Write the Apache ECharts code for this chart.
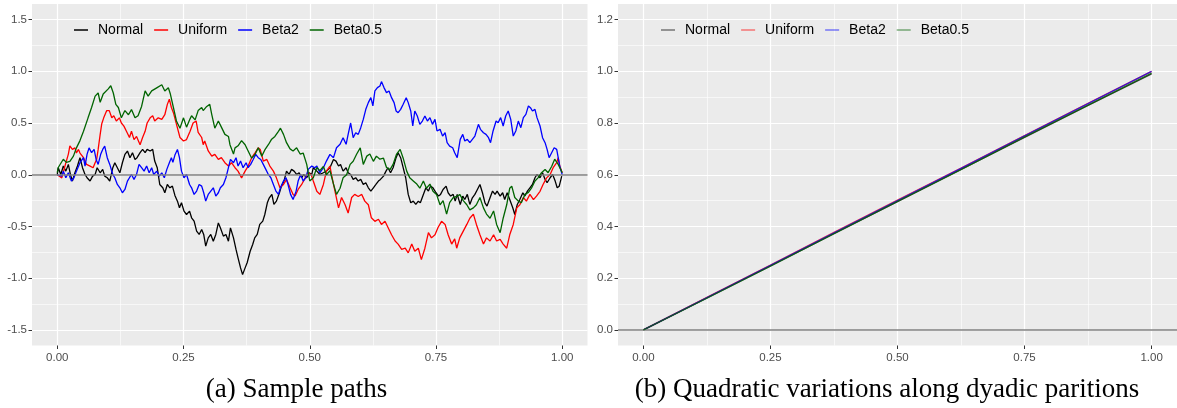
<!DOCTYPE html>
<html><head><meta charset="utf-8">
<script src="https://cdn.jsdelivr.net/npm/echarts@6/dist/echarts.min.js"></script>
<style>html,body{margin:0;padding:0;background:#fff;}#c{width:1177px;height:408px;}</style>
</head><body><div id="c"></div>
<script>
const seriesNames = ['Normal', 'Uniform', 'Beta2', 'Beta0.5'];
const seriesColors = ['#000000', '#FF0000', '#0000FF', '#006400'];
const legendColorsB = ['rgba(0,0,0,0.5)', 'rgba(255,0,0,0.5)', 'rgba(0,0,255,0.5)', 'rgba(0,100,0,0.5)'];

const pathNormal = [[0,0],[0.002,0.068],[0.007,0.003],[0.012,0.084],[0.017,0.035],[0.022,0.10],[0.026,0.003],[0.030,-0.061],[0.035,0.019],[0.040,0.084],[0.045,0.165],[0.050,0.068],[0.055,0.003],[0.059,-0.029],[0.065,-0.061],[0.070,-0.013],[0.075,0.003],[0.079,0.068],[0.085,0.019],[0.090,0.052],[0.094,-0.013],[0.099,-0.029],[0.104,-0.061],[0.110,0.068],[0.114,0.116],[0.119,0.068],[0.124,0.019],[0.129,0.116],[0.134,0.197],[0.139,0.229],[0.144,0.165],[0.149,0.213],[0.154,0.148],[0.158,0.165],[0.164,0.213],[0.169,0.245],[0.174,0.213],[0.178,0.245],[0.184,0.229],[0.189,0.245],[0.193,0.132],[0.198,0.068],[0.203,-0.094],[0.209,-0.126],[0.213,-0.174],[0.218,-0.094],[0.223,-0.126],[0.228,-0.11],[0.233,-0.2],[0.238,-0.255],[0.242,-0.319],[0.246,-0.271],[0.251,-0.352],[0.256,-0.384],[0.262,-0.352],[0.266,-0.416],[0.271,-0.448],[0.276,-0.545],[0.281,-0.577],[0.286,-0.529],[0.290,-0.577],[0.294,-0.69],[0.299,-0.61],[0.304,-0.577],[0.309,-0.642],[0.314,-0.577],[0.319,-0.465],[0.323,-0.513],[0.329,-0.593],[0.334,-0.577],[0.339,-0.642],[0.343,-0.513],[0.349,-0.61],[0.354,-0.722],[0.358,-0.803],[0.363,-0.9],[0.367,-0.965],[0.372,-0.9],[0.376,-0.85],[0.382,-0.739],[0.387,-0.674],[0.391,-0.61],[0.396,-0.577],[0.401,-0.48],[0.407,-0.448],[0.411,-0.384],[0.416,-0.271],[0.420,-0.223],[0.425,-0.19],[0.429,-0.287],[0.434,-0.255],[0.440,-0.174],[0.444,-0.11],[0.449,-0.061],[0.454,0.035],[0.459,0.003],[0.464,0.052],[0.469,0.035],[0.474,0.003],[0.479,0.019],[0.484,-0.029],[0.488,0.003],[0.494,-0.029],[0.499,0.019],[0.504,0.003],[0.507,0.068],[0.514,0.035],[0.520,0.003],[0.527,0.019],[0.533,0.035],[0.540,0.068],[0.547,0.148],[0.552,0.132],[0.557,0.084],[0.561,0.10],[0.566,0.035],[0.572,0.068],[0.576,0.019],[0.581,0.003],[0.586,-0.045],[0.591,-0.029],[0.596,-0.061],[0.601,-0.045],[0.606,-0.094],[0.611,-0.077],[0.616,-0.126],[0.621,-0.158],[0.626,-0.126],[0.631,-0.094],[0.636,-0.061],[0.640,-0.045],[0.646,-0.013],[0.651,0.035],[0.655,0.068],[0.660,0.019],[0.665,0.068],[0.671,0.165],[0.675,0.213],[0.680,0.165],[0.685,0.068],[0.690,-0.029],[0.695,-0.19],[0.700,-0.271],[0.705,-0.255],[0.710,-0.287],[0.715,-0.255],[0.719,-0.271],[0.725,-0.19],[0.730,-0.126],[0.735,-0.158],[0.739,-0.11],[0.744,-0.126],[0.750,-0.174],[0.755,-0.206],[0.759,-0.19],[0.764,-0.142],[0.770,-0.11],[0.774,-0.174],[0.779,-0.206],[0.784,-0.19],[0.788,-0.255],[0.792,-0.19],[0.798,-0.287],[0.803,-0.206],[0.807,-0.239],[0.812,-0.19],[0.817,-0.287],[0.822,-0.223],[0.827,-0.19],[0.832,-0.142],[0.837,-0.094],[0.842,-0.174],[0.847,-0.271],[0.851,-0.303],[0.857,-0.223],[0.862,-0.158],[0.867,-0.19],[0.871,-0.158],[0.877,-0.206],[0.882,-0.174],[0.886,-0.239],[0.891,-0.174],[0.896,-0.239],[0.902,-0.319],[0.906,-0.384],[0.911,-0.287],[0.916,-0.239],[0.922,-0.174],[0.926,-0.206],[0.931,-0.158],[0.936,-0.126],[0.941,-0.094],[0.946,-0.029],[0.950,0.003],[0.956,-0.029],[0.961,0.019],[0.966,-0.045],[0.970,-0.077],[0.976,-0.029],[0.981,0.003],[0.986,-0.061],[0.990,-0.126],[0.994,-0.11],[0.999,-0.013]];

const pathUniform = [[0,0],[0.002,-0.01],[0.009,-0.03],[0.015,0.08],[0.022,0.20],[0.025,0.28],[0.030,0.245],[0.035,0.26],[0.038,0.21],[0.042,0.245],[0.045,0.21],[0.052,0.165],[0.058,0.10],[0.065,0.084],[0.071,0.068],[0.075,0.116],[0.078,0.148],[0.081,0.245],[0.085,0.39],[0.088,0.49],[0.092,0.55],[0.098,0.62],[0.103,0.62],[0.108,0.55],[0.112,0.57],[0.117,0.52],[0.123,0.55],[0.127,0.50],[0.132,0.47],[0.137,0.42],[0.143,0.36],[0.147,0.42],[0.152,0.34],[0.157,0.37],[0.164,0.29],[0.169,0.36],[0.174,0.42],[0.178,0.50],[0.184,0.55],[0.189,0.57],[0.193,0.52],[0.200,0.55],[0.207,0.535],[0.213,0.58],[0.218,0.68],[0.222,0.73],[0.226,0.65],[0.230,0.60],[0.236,0.49],[0.243,0.36],[0.250,0.326],[0.256,0.34],[0.263,0.42],[0.269,0.50],[0.275,0.52],[0.279,0.41],[0.286,0.36],[0.289,0.29],[0.292,0.326],[0.299,0.23],[0.306,0.18],[0.312,0.197],[0.319,0.148],[0.325,0.165],[0.332,0.116],[0.339,0.084],[0.345,0.116],[0.352,0.068],[0.358,0.035],[0.365,-0.03],[0.372,0.035],[0.378,0.084],[0.385,0.165],[0.392,0.213],[0.398,0.26],[0.402,0.245],[0.408,0.132],[0.415,0.148],[0.421,0.084],[0.428,0.035],[0.434,-0.03],[0.441,-0.126],[0.448,-0.094],[0.454,-0.045],[0.461,-0.126],[0.467,-0.19],[0.471,-0.206],[0.477,-0.142],[0.484,-0.094],[0.491,-0.03],[0.497,0.02],[0.503,0.0],[0.507,-0.06],[0.514,-0.16],[0.520,-0.19],[0.527,-0.094],[0.533,0.035],[0.540,0.084],[0.543,0.003],[0.550,-0.16],[0.557,-0.32],[0.563,-0.22],[0.570,-0.29],[0.576,-0.37],[0.583,-0.22],[0.589,-0.19],[0.596,-0.21],[0.603,-0.19],[0.609,-0.255],[0.616,-0.29],[0.622,-0.416],[0.629,-0.45],[0.636,-0.43],[0.642,-0.48],[0.649,-0.45],[0.655,-0.51],[0.662,-0.58],[0.669,-0.64],[0.675,-0.67],[0.682,-0.72],[0.689,-0.71],[0.695,-0.755],[0.702,-0.67],[0.708,-0.74],[0.715,-0.71],[0.721,-0.82],[0.728,-0.71],[0.735,-0.56],[0.741,-0.61],[0.748,-0.58],[0.754,-0.51],[0.761,-0.45],[0.768,-0.48],[0.774,-0.58],[0.781,-0.67],[0.787,-0.62],[0.791,-0.71],[0.797,-0.61],[0.804,-0.545],[0.811,-0.48],[0.817,-0.42],[0.824,-0.38],[0.830,-0.48],[0.837,-0.58],[0.844,-0.67],[0.850,-0.61],[0.857,-0.64],[0.864,-0.58],[0.870,-0.64],[0.877,-0.625],[0.883,-0.67],[0.890,-0.71],[0.896,-0.58],[0.903,-0.48],[0.910,-0.32],[0.916,-0.29],[0.923,-0.22],[0.929,-0.255],[0.936,-0.19],[0.943,-0.24],[0.949,-0.206],[0.956,-0.16],[0.962,-0.094],[0.969,-0.03],[0.976,0.003],[0.982,0.068],[0.989,0.116],[0.992,0.165],[0.995,0.084],[1.0,0.02]];

const pathBeta2 = [[0,0],[0.002,0.003],[0.009,-0.013],[0.012,0.035],[0.017,-0.029],[0.022,0.019],[0.028,-0.061],[0.033,-0.029],[0.038,0.035],[0.045,0.116],[0.052,0.165],[0.055,0.084],[0.059,0.197],[0.063,0.26],[0.068,0.213],[0.073,0.245],[0.077,0.148],[0.081,0.10],[0.086,0.197],[0.090,0.245],[0.094,0.277],[0.099,0.165],[0.104,0.10],[0.110,0.003],[0.114,-0.029],[0.119,-0.094],[0.124,-0.126],[0.129,-0.174],[0.134,-0.142],[0.139,-0.061],[0.143,-0.029],[0.147,0.003],[0.152,-0.045],[0.157,0.003],[0.162,0.10],[0.167,0.068],[0.172,0.035],[0.177,0.084],[0.182,0.019],[0.187,0.068],[0.191,0.003],[0.197,0.035],[0.202,-0.013],[0.207,0.019],[0.212,-0.029],[0.217,0.052],[0.222,0.116],[0.226,0.165],[0.229,0.12],[0.233,0.19],[0.238,0.245],[0.242,0.165],[0.246,0.035],[0.251,-0.029],[0.256,0.003],[0.262,-0.094],[0.266,-0.126],[0.271,-0.19],[0.276,-0.158],[0.281,-0.094],[0.286,-0.11],[0.290,-0.174],[0.294,-0.255],[0.299,-0.19],[0.304,-0.158],[0.309,-0.126],[0.314,-0.206],[0.319,-0.174],[0.323,-0.126],[0.329,-0.094],[0.334,-0.029],[0.339,0.068],[0.343,0.148],[0.349,0.116],[0.354,0.165],[0.358,0.084],[0.363,0.132],[0.368,0.068],[0.374,0.116],[0.378,0.068],[0.383,0.10],[0.388,0.148],[0.393,0.197],[0.398,0.165],[0.403,0.148],[0.408,0.10],[0.413,0.052],[0.418,0.003],[0.423,-0.029],[0.428,-0.094],[0.433,-0.158],[0.438,-0.19],[0.442,-0.126],[0.448,-0.061],[0.453,-0.029],[0.457,-0.094],[0.462,-0.19],[0.467,-0.239],[0.473,-0.158],[0.477,-0.061],[0.482,0.003],[0.487,-0.061],[0.492,-0.029],[0.497,0.052],[0.504,0.084],[0.510,0.068],[0.514,0.084],[0.520,0.019],[0.527,0.068],[0.533,0.132],[0.540,0.197],[0.547,0.165],[0.553,0.261],[0.560,0.294],[0.566,0.358],[0.572,0.294],[0.576,0.39],[0.581,0.50],[0.586,0.358],[0.591,0.406],[0.596,0.39],[0.601,0.455],[0.606,0.535],[0.611,0.632],[0.616,0.697],[0.621,0.745],[0.625,0.665],[0.629,0.81],[0.634,0.842],[0.639,0.858],[0.642,0.90],[0.647,0.842],[0.652,0.794],[0.657,0.81],[0.662,0.745],[0.667,0.697],[0.671,0.616],[0.675,0.60],[0.680,0.632],[0.685,0.681],[0.691,0.745],[0.695,0.697],[0.700,0.616],[0.704,0.471],[0.708,0.616],[0.713,0.568],[0.718,0.487],[0.723,0.519],[0.728,0.568],[0.733,0.519],[0.738,0.552],[0.743,0.487],[0.748,0.535],[0.752,0.423],[0.758,0.439],[0.763,0.374],[0.768,0.406],[0.772,0.31],[0.777,0.277],[0.783,0.261],[0.787,0.213],[0.792,0.165],[0.798,0.342],[0.803,0.39],[0.807,0.326],[0.812,0.342],[0.817,0.31],[0.822,0.342],[0.827,0.374],[0.834,0.487],[0.838,0.439],[0.844,0.406],[0.849,0.39],[0.854,0.358],[0.858,0.31],[0.863,0.423],[0.869,0.519],[0.873,0.503],[0.878,0.552],[0.883,0.471],[0.888,0.568],[0.893,0.616],[0.898,0.535],[0.903,0.374],[0.908,0.423],[0.913,0.519],[0.918,0.455],[0.923,0.552],[0.928,0.584],[0.933,0.665],[0.937,0.648],[0.941,0.616],[0.946,0.632],[0.950,0.552],[0.956,0.471],[0.961,0.358],[0.966,0.31],[0.970,0.245],[0.974,0.165],[0.979,0.213],[0.984,0.261],[0.989,0.245],[0.992,0.165],[0.995,0.084],[1.0,0.0]];

const pathBeta05 = [[0,0.02],[0.002,0.07],[0.012,0.15],[0.018,0.12],[0.025,0.13],[0.032,0.18],[0.038,0.26],[0.045,0.33],[0.052,0.42],[0.061,0.55],[0.068,0.65],[0.075,0.76],[0.081,0.79],[0.085,0.70],[0.091,0.78],[0.101,0.83],[0.106,0.86],[0.111,0.79],[0.116,0.68],[0.121,0.65],[0.127,0.55],[0.134,0.62],[0.141,0.58],[0.147,0.63],[0.154,0.55],[0.160,0.57],[0.167,0.66],[0.174,0.81],[0.180,0.76],[0.187,0.81],[0.197,0.84],[0.207,0.87],[0.213,0.81],[0.220,0.84],[0.224,0.78],[0.230,0.65],[0.236,0.52],[0.243,0.45],[0.250,0.55],[0.256,0.46],[0.263,0.54],[0.266,0.57],[0.273,0.53],[0.279,0.62],[0.286,0.65],[0.289,0.62],[0.296,0.66],[0.302,0.68],[0.306,0.58],[0.312,0.45],[0.319,0.52],[0.325,0.46],[0.332,0.39],[0.339,0.37],[0.342,0.29],[0.349,0.20],[0.352,0.26],[0.358,0.28],[0.365,0.33],[0.372,0.29],[0.378,0.23],[0.385,0.16],[0.392,0.20],[0.398,0.26],[0.405,0.18],[0.411,0.24],[0.418,0.29],[0.424,0.34],[0.431,0.37],[0.438,0.42],[0.442,0.45],[0.448,0.39],[0.454,0.31],[0.461,0.25],[0.467,0.23],[0.474,0.26],[0.481,0.20],[0.487,0.21],[0.494,0.10],[0.500,-0.06],[0.507,-0.03],[0.514,0.07],[0.520,0.04],[0.527,0.08],[0.533,0.00],[0.540,0.04],[0.547,-0.09],[0.553,-0.19],[0.560,-0.13],[0.566,-0.03],[0.573,0.00],[0.580,0.10],[0.586,0.13],[0.593,0.20],[0.600,0.26],[0.606,0.10],[0.613,0.18],[0.619,0.20],[0.626,0.13],[0.632,0.18],[0.639,0.15],[0.646,0.16],[0.652,0.07],[0.659,0.05],[0.665,0.10],[0.672,0.20],[0.679,0.245],[0.685,0.16],[0.692,0.035],[0.698,-0.03],[0.705,-0.06],[0.712,-0.09],[0.718,-0.13],[0.725,-0.06],[0.731,-0.13],[0.738,-0.09],[0.744,-0.16],[0.751,-0.19],[0.758,-0.29],[0.764,-0.25],[0.771,-0.38],[0.777,-0.27],[0.784,-0.22],[0.791,-0.21],[0.797,-0.19],[0.804,-0.25],[0.811,-0.29],[0.817,-0.34],[0.824,-0.32],[0.830,-0.29],[0.837,-0.22],[0.844,-0.32],[0.850,-0.38],[0.857,-0.42],[0.864,-0.35],[0.870,-0.48],[0.877,-0.56],[0.883,-0.42],[0.890,-0.29],[0.896,-0.13],[0.900,-0.11],[0.906,-0.22],[0.913,-0.255],[0.919,-0.27],[0.926,-0.19],[0.933,-0.17],[0.939,-0.13],[0.946,-0.06],[0.952,-0.03],[0.959,0.02],[0.966,0.05],[0.972,0.02],[0.979,0.08],[0.985,0.15],[0.992,0.10],[1.0,0.02]];

const qvNormal = [[0,0],[0.125,0.124],[0.25,0.248],[0.375,0.372],[0.5,0.496],[0.625,0.621],[0.75,0.744],[0.875,0.868],[1,0.99]];
const qvUniform = [[0,0],[0.125,0.126],[0.25,0.251],[0.375,0.377],[0.5,0.502],[0.625,0.626],[0.75,0.751],[0.875,0.876],[1,1.0]];
const qvBeta2 = [[0,0],[0.125,0.125],[0.25,0.25],[0.375,0.375],[0.5,0.5],[0.625,0.625],[0.75,0.75],[0.875,0.875],[1,1.0]];
const qvBeta05 = [[0,0],[0.125,0.123],[0.25,0.247],[0.375,0.372],[0.5,0.497],[0.625,0.62],[0.75,0.746],[0.875,0.869],[1,0.993]];

const xTicks = [0, 0.25, 0.5, 0.75, 1];
const xMinor = [0.125, 0.375, 0.625, 0.875];
const yTicksA = [-1.5, -1, -0.5, 0, 0.5, 1, 1.5];
const yMinorA = [-1.25, -0.75, -0.25, 0.25, 0.75, 1.25];
const yTicksB = [0, 0.2, 0.4, 0.6, 0.8, 1.0, 1.2];
const yMinorB = [0.1, 0.3, 0.5, 0.7, 0.9, 1.1];
const captions = ['(a) Sample paths', '(b) Quadratic variations along dyadic paritions'];

const SANS = '"Liberation Sans", Arial, sans-serif';
const SERIF = '"Liberation Serif", "Times New Roman", serif';

function majorAxis(gridIndex, min, max, ticks, digits, isX) {
  return {
    type: 'value', gridIndex, min, max,
    position: isX ? 'bottom' : 'left',
    axisLine: { show: false, onZero: false },
    axisTick: { show: true, length: 3.5, customValues: ticks, lineStyle: { color: '#333333', width: 1 } },
    axisLabel: { show: true, customValues: ticks, formatter: v => Number(v).toFixed(digits), color: '#4D4D4D', fontSize: 11.5, fontFamily: SANS, margin: isX ? 6 : 5 },
    splitLine: { show: true, lineStyle: { color: '#FFFFFF', width: 1.2 } },
    minorTick: { show: false }, minorSplitLine: { show: false }
  };
}
function minorAxis(gridIndex, min, max, ticks, isX) {
  return {
    type: 'value', gridIndex, min, max,
    position: isX ? 'top' : 'right',
    axisLine: { show: false, onZero: false },
    axisTick: { show: false, customValues: ticks },
    axisLabel: { show: false, customValues: ticks },
    splitLine: { show: true, lineStyle: { color: '#FFFFFF', width: 0.6 } }
  };
}

const pathsA = [pathNormal, pathUniform, pathBeta2, pathBeta05];
const pathsB = [qvNormal, qvUniform, qvBeta2, qvBeta05];
const zeroLine = () => ({ silent: true, symbol: ['none', 'none'], label: { show: false }, emphasis: { disabled: true }, lineStyle: { color: '#808080', width: 1.7, type: 'solid' }, data: [{ yAxis: 0 }] });

const series = [];
pathsA.forEach((d, i) => series.push({
  type: 'line', name: seriesNames[i], data: d, xAxisIndex: 0, yAxisIndex: 0,
  showSymbol: false, symbol: 'none', animation: false, emphasis: { disabled: true },
  lineStyle: { color: seriesColors[i], width: 1.3 }, itemStyle: { color: seriesColors[i] },
  markLine: i === 0 ? zeroLine() : undefined, z: 2 + i
}));
pathsB.forEach((d, i) => series.push({
  type: 'line', name: seriesNames[i], data: d, xAxisIndex: 2, yAxisIndex: 2,
  showSymbol: false, symbol: 'none', animation: false, emphasis: { disabled: true },
  lineStyle: { color: seriesColors[i], width: 1.4, opacity: 0.75 }, itemStyle: { color: seriesColors[i] },
  markLine: i === 0 ? zeroLine() : undefined, z: 2 + i
}));

function legendFor(left, colors) {
  return {
    left, top: 23, padding: 0, orient: 'horizontal', selectedMode: false,
    icon: 'rect', itemWidth: 14, itemHeight: 1.5, itemGap: 11,
    data: seriesNames.map((n, i) => ({ name: n, itemStyle: { color: colors[i], borderWidth: 0 } })),
    textStyle: { fontSize: 14, color: '#000000', fontFamily: SANS, padding: [0, 0, 0, 5] }
  };
}

const chart = echarts.init(document.getElementById('c'), null, { renderer: 'canvas' });
chart.setOption({
  animation: false,
  backgroundColor: '#FFFFFF',
  grid: [
    { left: 32, top: 4, width: 555.5, height: 341.5, show: true, backgroundColor: '#EBEBEB', borderWidth: 0, containLabel: false, outerBoundsMode: 'none' },
    { left: 618, top: 4, width: 559, height: 341.5, show: true, backgroundColor: '#EBEBEB', borderWidth: 0, containLabel: false, outerBoundsMode: 'none' }
  ],
  xAxis: [
    majorAxis(0, -0.05, 1.05, xTicks, 2, true),
    minorAxis(0, -0.05, 1.05, xMinor, true),
    majorAxis(1, -0.05, 1.05, xTicks, 2, true),
    minorAxis(1, -0.05, 1.05, xMinor, true)
  ],
  yAxis: [
    majorAxis(0, -1.65, 1.65, yTicksA, 1, false),
    minorAxis(0, -1.65, 1.65, yMinorA, false),
    majorAxis(1, -0.06, 1.26, yTicksB, 1, false),
    minorAxis(1, -0.06, 1.26, yMinorB, false)
  ],
  legend: [legendFor(74, seriesColors), legendFor(661, legendColorsB)],
  series,
  graphic: [
    { type: 'text', x: 296.5, y: 390, style: { text: captions[0], font: '27px ' + SERIF, fill: '#000000', align: 'center', verticalAlign: 'middle', textAlign: 'center', textVerticalAlign: 'middle' } },
    { type: 'text', x: 887, y: 390, style: { text: captions[1], font: '27px ' + SERIF, fill: '#000000', align: 'center', verticalAlign: 'middle', textAlign: 'center', textVerticalAlign: 'middle' } }
  ]
});
</script></body></html>
